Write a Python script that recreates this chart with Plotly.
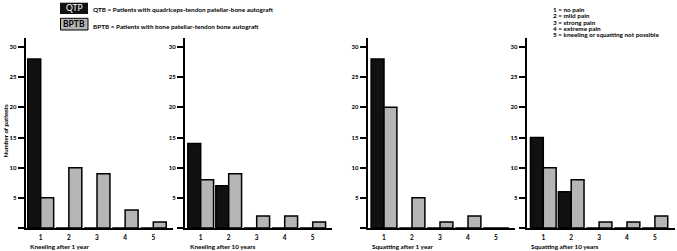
import plotly.graph_objects as go

W, H = 677, 251

categories = [1, 2, 3, 4, 5]
panel_titles = ["Kneeling after 1 year", "Kneeling after 10 years",
                "Squatting after 1 year", "Squatting after 10 years"]
qtp_kneel_1y = [28, 0, 0, 0, 0]
bptb_kneel_1y = [5, 10, 9, 3, 1]
qtp_kneel_10y = [14, 7, 0, 0, 0]
bptb_kneel_10y = [8, 9, 2, 2, 1]
qtp_squat_1y = [28, 0, 0, 0, 0]
bptb_squat_1y = [20, 5, 1, 2, 0]
qtp_squat_10y = [15, 6, 0, 0, 0]
bptb_squat_10y = [10, 8, 1, 1, 2]
y_ticks = [0, 5, 10, 15, 20, 25, 30]
y_ticktext = ["", "5", "10", "15", "20", "25", "30"]
pain_scale = ["1 = no pain", "2 = mild pain", "3 = strong pain",
              "4 = extreme pain", "5 = kneeling or squatting not possible"]

qtp_series = [qtp_kneel_1y, qtp_kneel_10y, qtp_squat_1y, qtp_squat_10y]
bptb_series = [bptb_kneel_1y, bptb_kneel_10y, bptb_squat_1y, bptb_squat_10y]

FONT = "Lato"
BLACK = "#111111"
GREY = "#b5b5b5"

def px(x):
    return x / W

def py(y):
    return 1 - y / H

# pixel geometry of each panel: y-axis x position, tick-1 x position, x-axis end
yaxis_x = [25.7, 185.0, 367.7, 526.7]
tick1_x = [40.7, 200.7, 384.0, 543.3]
spacing = [28.15, 28.0, 28.0, 27.9]
xend = [173.0, 331.7, 515.0, 675.0]
y_top, y_base = 38.0, 228.0

fig = go.Figure()
for i in range(4):
    xa = "x" if i == 0 else f"x{i+1}"
    ya = "y" if i == 0 else f"y{i+1}"
    fig.add_trace(go.Bar(x=categories, y=qtp_series[i], xaxis=xa, yaxis=ya,
                         marker=dict(color=BLACK, line=dict(color="black", width=1.5)),
                         showlegend=False))
    fig.add_trace(go.Bar(x=categories, y=bptb_series[i], xaxis=xa, yaxis=ya,
                         marker=dict(color=GREY, line=dict(color="black", width=1.5)),
                         showlegend=False))
    xl = 1 - (tick1_x[i] - yaxis_x[i]) / spacing[i]
    xr = 1 + (xend[i] - tick1_x[i]) / spacing[i]
    xkey = "xaxis" if i == 0 else f"xaxis{i+1}"
    ykey = "yaxis" if i == 0 else f"yaxis{i+1}"
    fig.update_layout(**{
        xkey: dict(domain=[px(yaxis_x[i]), px(xend[i])], range=[xl, xr],
                   anchor=ya, tickvals=categories, showline=True, linewidth=2,
                   linecolor="black", ticks="outside", ticklen=2,
                   tickcolor="rgba(0,0,0,0)", showgrid=False, zeroline=False,
                   tickfont=dict(family=FONT, size=6.5, color="black", weight="bold")),
        ykey: dict(domain=[py(y_base), py(y_top)], range=[0, 31.5], anchor=xa,
                   tickvals=y_ticks, ticktext=y_ticktext, showline=True,
                   linewidth=2, linecolor="black", ticks="outside", ticklen=6,
                   tickwidth=1.5, tickcolor="black", showgrid=False, zeroline=False,
                   tickfont=dict(family=FONT, size=6, color="black", weight="bold")),
    })
    fig.add_annotation(x=px(yaxis_x[i] + 2.5), y=py(246.7), xref="paper", yref="paper",
                       text=panel_titles[i], showarrow=False, xanchor="left",
                       yanchor="middle",
                       font=dict(family=FONT, size=6.4, color="black", weight="bold"))

# y-axis title
fig.add_annotation(x=px(5), y=py(130.5), xref="paper", yref="paper",
                   text="Number of patients", textangle=-90, showarrow=False,
                   xanchor="center", yanchor="middle",
                   font=dict(family=FONT, size=6.2, color="black", weight="bold"))

# legend boxes
fig.add_shape(type="rect", xref="paper", yref="paper", x0=px(60), x1=px(88),
              y0=py(14), y1=py(2.7), fillcolor=BLACK, line=dict(width=0))
fig.add_shape(type="rect", xref="paper", yref="paper", x0=px(60.5), x1=px(88),
              y0=py(30), y1=py(18.3), fillcolor=GREY, line=dict(color="black", width=1))
fig.add_annotation(x=px(74), y=py(8.5), xref="paper", yref="paper", text="QTP",
                   showarrow=False, xanchor="center", yanchor="middle",
                   font=dict(family=FONT, size=8.5, color="white"))
fig.add_annotation(x=px(74), y=py(24.2), xref="paper", yref="paper", text="BPTB",
                   showarrow=False, xanchor="center", yanchor="middle",
                   font=dict(family=FONT, size=8.5, color="black", weight="bold"))
fig.add_annotation(x=px(91), y=py(9.3), xref="paper", yref="paper",
                   text="QTB = Patients with quadriceps-tendon patellar-bone autograft",
                   showarrow=False, xanchor="left", yanchor="middle",
                   font=dict(family=FONT, size=6.4, color="black", weight="bold"))
fig.add_annotation(x=px(91), y=py(26), xref="paper", yref="paper",
                   text="BPTB = Patients with bone patellar-tendon bone autograft",
                   showarrow=False, xanchor="left", yanchor="middle",
                   font=dict(family=FONT, size=6.4, color="black", weight="bold"))

pain_y = [9.3, 15.8, 22.0, 28.2, 34.4]
for txt, yy in zip(pain_scale, pain_y):
    fig.add_annotation(x=px(551), y=py(yy), xref="paper", yref="paper", text=txt,
                       showarrow=False, xanchor="left", yanchor="middle",
                       font=dict(family=FONT, size=6.4, color="black", weight="bold"))

fig.update_layout(width=W, height=H, margin=dict(l=0, r=0, t=0, b=0),
                  barmode="group", bargap=0.08, bargroupgap=0,
                  plot_bgcolor="white", paper_bgcolor="white",
                  font=dict(family=FONT, color="black"))

fig.write_html("out.html", config={"displayModeBar": False},
               post_script="document.body.style.margin='0';document.body.style.overflow='hidden';")
